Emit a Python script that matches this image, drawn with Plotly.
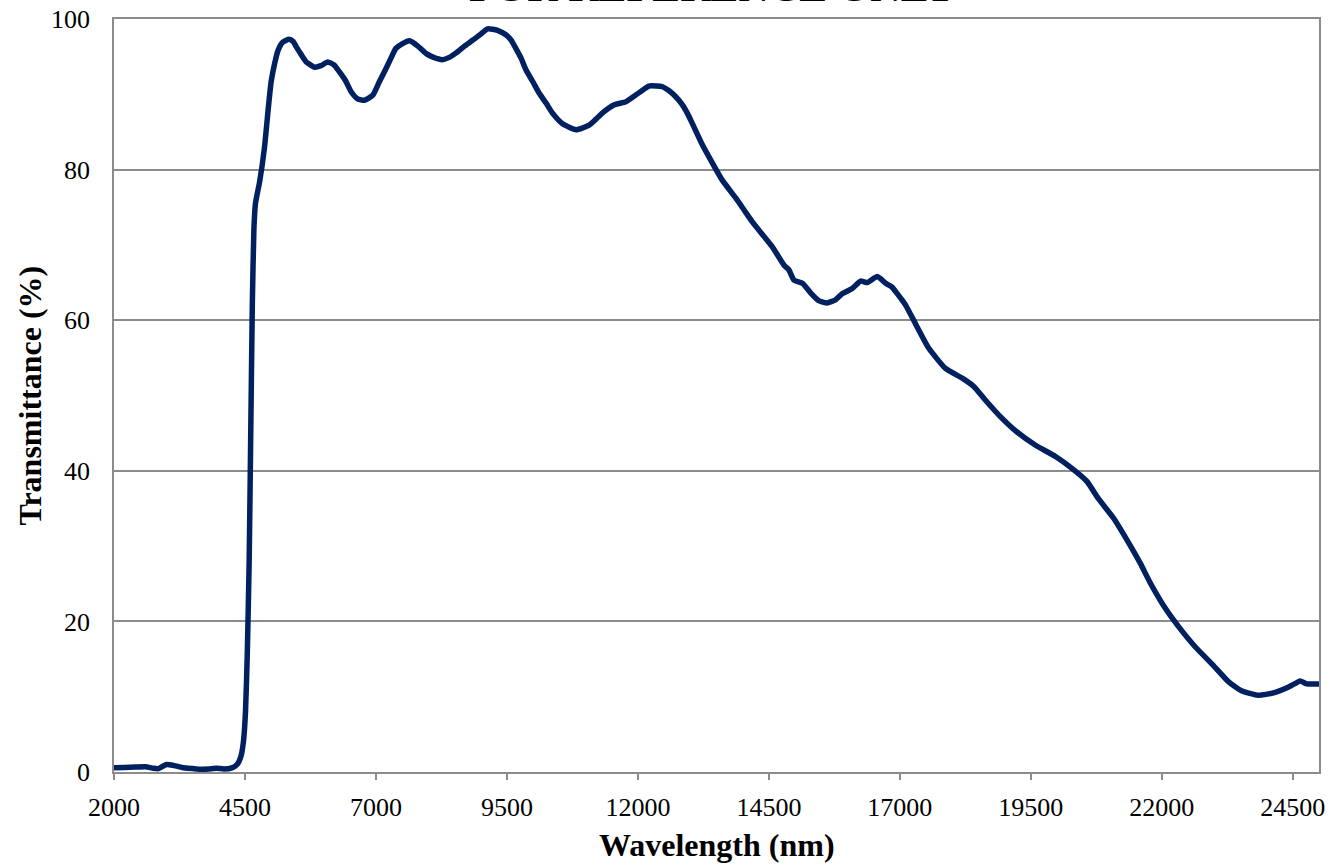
import plotly.graph_objects as go

wavelength_nm = [
    2000, 2200, 2400, 2600, 2750, 2850, 3000, 3150, 3300, 3500, 3650, 3800, 3950, 4100,
    4250, 4350, 4420, 4470, 4510, 4545, 4580, 4610, 4640, 4670, 4700, 4780, 4870, 4950,
    5000, 5070, 5130, 5220, 5340, 5420, 5480, 5580, 5670, 5830, 5950, 6080, 6200, 6300,
    6420, 6530, 6650, 6780, 6940, 7060, 7190, 7300, 7380, 7500, 7640, 7800, 7960, 8100,
    8270, 8400, 8530, 8690, 8850, 9000, 9130, 9320, 9480, 9580, 9670, 9770, 9860, 10000,
    10120, 10250, 10370, 10560, 10820, 11070, 11200, 11320, 11550, 11770, 11960, 12100,
    12210, 12350, 12470, 12590, 12690, 12850, 12950, 13040, 13230, 13420, 13610, 13870,
    14030, 14180, 14410, 14560, 14790, 14880, 14980, 15140, 15300, 15450, 15610, 15770,
    15900, 16090, 16250, 16380, 16570, 16730, 16850, 16920, 17040, 17110, 17300, 17550,
    17870, 18190, 18410, 18630, 18890, 19210, 19590, 19970, 20290, 20570, 20790, 21080,
    21370, 21590, 21780, 22070, 22320, 22640, 22950, 23270, 23520, 23840, 24130, 24420,
    24560, 24640, 24770, 25000,
]
transmittance_pct = [
    0.55, 0.6, 0.65, 0.7, 0.5, 0.45, 1.0, 0.85, 0.6, 0.45, 0.35, 0.4, 0.5, 0.4,
    0.55, 1.0, 2.0, 4.0, 8.0, 16, 28, 45, 62, 72, 75.5, 78.4, 82.8, 88.5,
    91.7, 94.2, 95.8, 96.9, 97.3, 97.0, 96.3, 95.2, 94.3, 93.6, 93.8, 94.3, 93.9, 93.0,
    91.8, 90.3, 89.4, 89.2, 89.9, 91.6, 93.4, 95.0, 96.1, 96.7, 97.1, 96.4, 95.4, 94.9,
    94.6, 94.9, 95.5, 96.4, 97.2, 98.0, 98.7, 98.5, 97.9, 97.2, 96.1, 94.8, 93.3, 91.6,
    90.1, 88.8, 87.5, 86.1, 85.3, 85.9, 86.7, 87.5, 88.6, 89.0, 89.9, 90.6,
    91.1, 91.1, 91.0, 90.5, 89.9, 88.6, 87.4, 86.1, 83.3, 80.9, 78.6, 76.2,
    74.6, 73.1, 71.1, 69.8, 67.3, 66.7, 65.3, 64.9, 63.6, 62.6, 62.3, 62.7,
    63.5, 64.2, 65.2, 65.0, 65.8, 64.9, 64.4, 63.8, 62.7, 62.0, 59.5, 56.3,
    53.6, 52.3, 51.2, 49.4, 47.4, 45.3, 43.4, 41.9, 40.3, 38.6, 36.3, 33.7,
    30.4, 27.7, 25.1, 21.7, 19.3, 16.6, 14.4, 12.0, 10.8, 10.2, 10.5, 11.3,
    11.8, 12.1, 11.7, 11.7,
]
x_ticks = [2000, 4500, 7000, 9500, 12000, 14500, 17000, 19500, 22000, 24500]
y_ticks = [0, 20, 40, 60, 80, 100]

chart_title = "FOR REFERENCE ONLY"
x_title = "Wavelength (nm)"
y_title = "Transmittance (%)"

SERIF = "Liberation Serif, Times New Roman, serif"
GRID = "#8c8c8c"

fig = go.Figure()
fig.add_trace(go.Scatter(
    x=wavelength_nm, y=transmittance_pct, mode="lines",
    line=dict(color="#002060", width=5.5, shape="spline", smoothing=0.5),
    showlegend=False, hoverinfo="x+y",
))

fig.update_layout(
    width=1332, height=866,
    margin=dict(l=114, r=13, t=19, b=94, autoexpand=False),
    paper_bgcolor="white", plot_bgcolor="white",
    font=dict(family=SERIF, color="black", size=26),
    xaxis=dict(
        range=[2000, 25000], tickvals=x_ticks, ticktext=[str(v) for v in x_ticks],
        showgrid=False, zeroline=False, automargin=False,
        showline=True, linecolor=GRID, linewidth=1.5, mirror=True,
        ticks="outside", ticklen=6, tickcolor=GRID, tickwidth=1.5,
        ticklabelstandoff=5,
        tickfont=dict(family=SERIF, size=26, color="black"),
    ),
    yaxis=dict(
        range=[0, 100], tickvals=y_ticks, ticktext=[str(v) for v in y_ticks],
        showgrid=True, gridcolor=GRID, gridwidth=1.5, zeroline=False, automargin=False,
        showline=True, linecolor=GRID, linewidth=1.5, mirror=True,
        ticks="", ticklabelstandoff=17,
        tickfont=dict(family=SERIF, size=26, color="black"),
    ),
    annotations=[
        dict(text="<b>" + chart_title + "</b>", xref="paper", yref="paper",
             x=0.496, y=1.043, xanchor="center", yanchor="middle", showarrow=False,
             font=dict(family=SERIF, size=42, color="black")),
        dict(text="<b>" + x_title + "</b>", xref="paper", yref="paper",
             x=0.5, y=-0.097, xanchor="center", yanchor="middle", showarrow=False,
             font=dict(family=SERIF, size=32, color="black")),
        dict(text="<b>" + y_title + "</b>", xref="paper", yref="paper",
             x=-0.0705, y=0.5, xanchor="center", yanchor="middle", showarrow=False,
             textangle=-90, font=dict(family=SERIF, size=32, color="black")),
    ],
)

fig.write_html("out.html", config={"displayModeBar": False},
               post_script="document.body.style.margin='0';document.body.style.overflow='hidden';")
